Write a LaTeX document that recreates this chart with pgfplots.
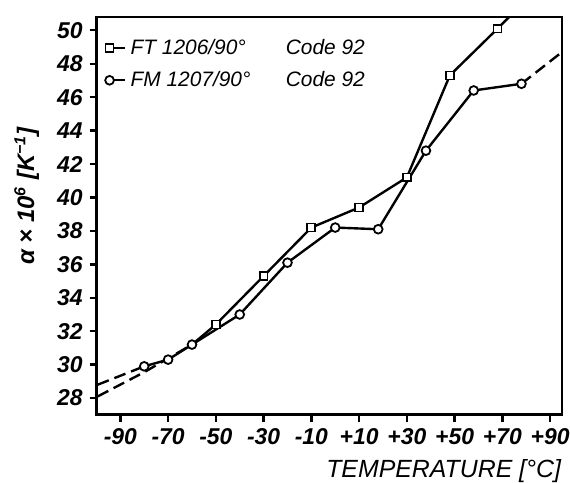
\documentclass[border=0pt]{standalone}
\usepackage{fontspec}
\setmainfont{Liberation Sans}
\usepackage{pgfplots}
\pgfplotsset{compat=1.18}
\begin{document}
\begin{tikzpicture}
\begin{axis}[
    name=ax,
    width=234pt, height=200pt, scale only axis,
    xmin=-100, xmax=95, ymin=27, ymax=50.8,
    axis line style={line width=1.4pt},
    xtick={-90,-70,...,90},
    xticklabels={-90,-70,-50,-30,-10,+10,+30,+50,+70,+90},
    ytick={28,30,...,50},
    tick align=outside, xtick pos=bottom, ytick pos=left,
    major tick length=3.5pt,
    tick style={line width=1.2pt, black},
    /pgf/number format/assume math mode=true,
    yticklabel style={font=\fontsize{11.5}{13}\selectfont\bfseries\itshape},
    xticklabel style={font=\fontsize{11.5}{13}\selectfont\bfseries\itshape},
    xlabel={TEMPERATURE [°C]},
    xlabel style={font=\fontsize{12.5}{14}\selectfont\itshape, at={(axis description cs:1,0)}, anchor=north east, yshift=-19pt, xshift=3pt},
    ylabel={α × 10\textsuperscript{6} [K\textsuperscript{−1}]},
    ylabel style={font=\fontsize{12}{14}\selectfont\bfseries\itshape, at={(axis description cs:-0.15,0.55)}, anchor=center},
    legend style={draw=none, fill=none, at={(axis description cs:0.005,0.965)}, anchor=north west,
        font=\fontsize{10.5}{12}\selectfont\itshape, row sep=3pt},
    legend cell align=left,
    legend image code/.code={\draw[#1, mark repeat=3, mark phase=1] plot coordinates {(0pt,0pt) (4pt,0pt) (8pt,0pt)};},
    every axis plot/.append style={line width=1.2pt, black},
]
% FT 1206/90 (squares)
\addplot [mark=square*, mark size=2pt, mark options={fill=white, solid, line width=0.9pt}] coordinates {
(-50,32.4) (-30,35.3) (-10,38.2) (10,39.4) (30,41.2) (48,47.3) (68,50.1) (75,51.1)
};
\addlegendentry{\makebox[78pt][l]{FT 1206/90°}Code 92}
% FM 1207/90 (circles)
\addplot [mark=*, mark size=2.2pt, mark options={fill=white, solid, line width=0.9pt}] coordinates {
(-80,29.9) (-70,30.3) (-60,31.2) (-40,33.0) (-20,36.1) (0,38.2) (18,38.1) (38,42.8) (58,46.4) (78,46.8)
};
\addlegendentry{\makebox[78pt][l]{FM 1207/90°}Code 92}
% extrapolated parts
\addplot [forget plot, dash pattern=on 6pt off 3pt] coordinates {(-99.5,28.1) (-80,29.55) (-60,31.2)};
\addplot [forget plot] coordinates {(-60,31.2) (-50,32.4)};
\addplot [forget plot, dash pattern=on 6pt off 3pt] coordinates {(-99.5,28.8) (-80,29.9)};
\addplot [forget plot, dash pattern=on 6pt off 3pt] coordinates {(78,46.8) (95,48.7)};
\end{axis}
\pgfresetboundingbox
\path ([shift={(-48.5pt,-34pt)}]ax.south west) rectangle ([shift={(4pt,8.5pt)}]ax.north east);
\end{tikzpicture}
\end{document}
